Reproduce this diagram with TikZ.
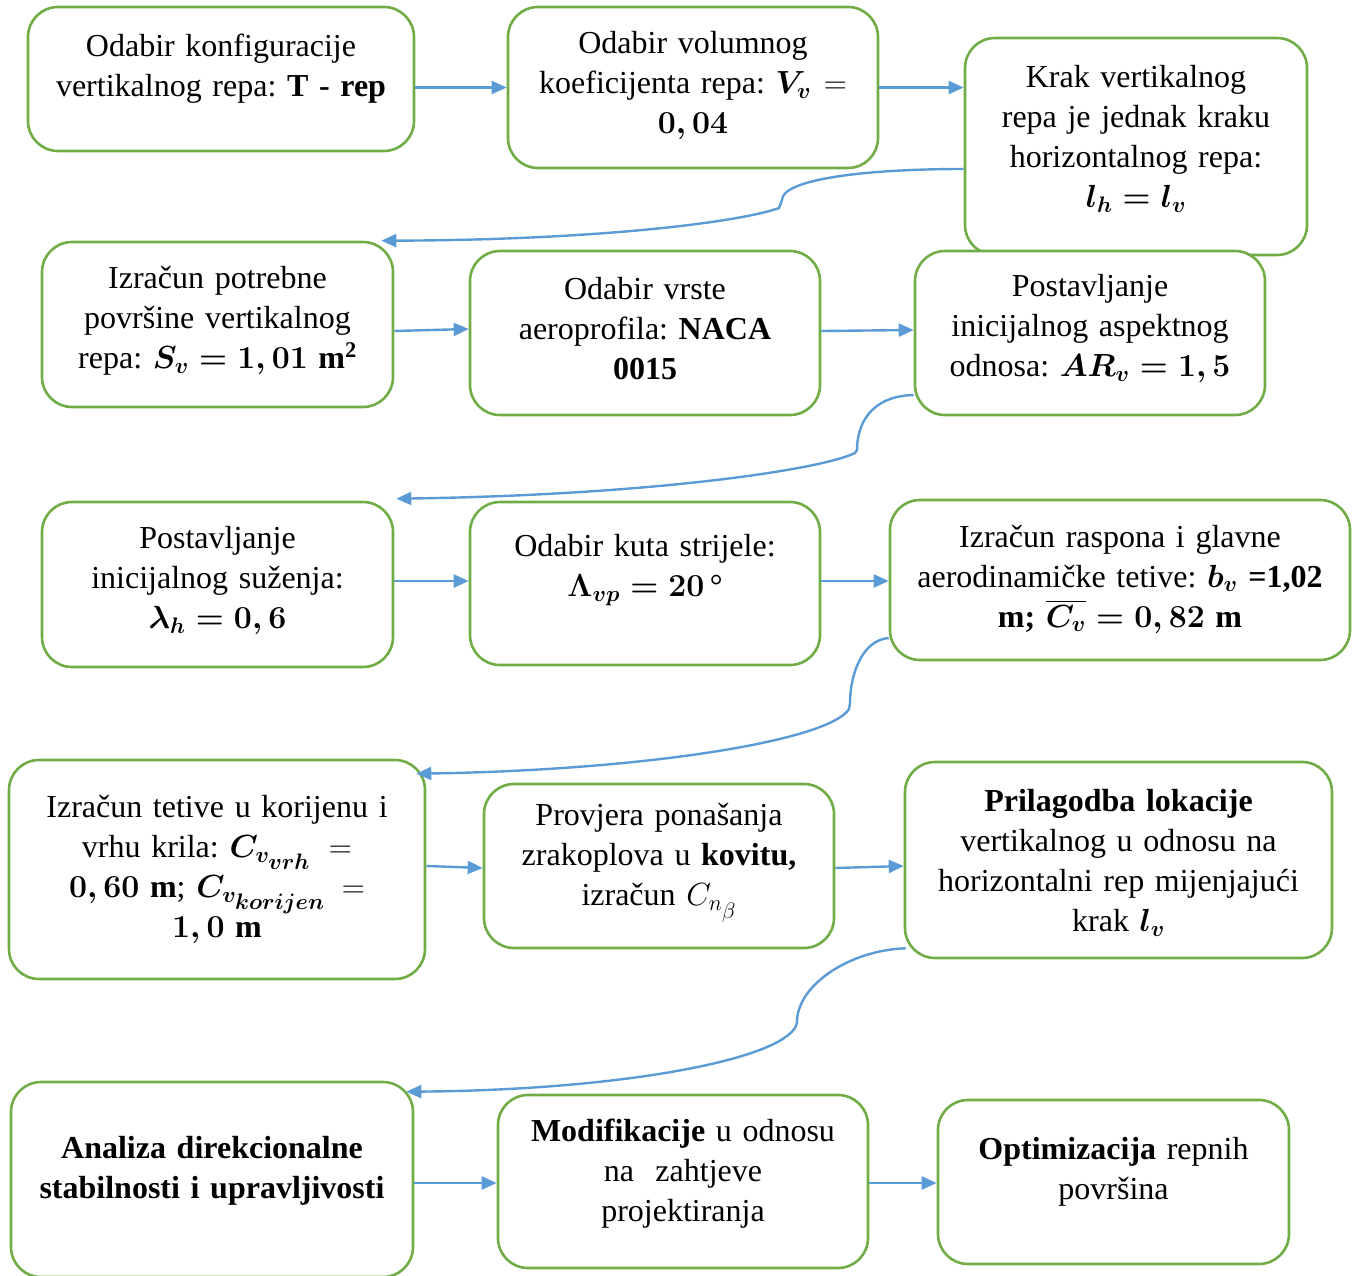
\RequirePackage{fix-cm}
\documentclass[tikz,border=0pt]{standalone}
\usepackage{amsmath}
\usepackage{fontspec}
\setmainfont{Liberation Serif}
\usetikzlibrary{arrows.meta,calc}
\definecolor{boxgreen}{RGB}{112,173,71}
\definecolor{arrowblue}{RGB}{91,155,213}
\tikzset{
  box/.style={draw=boxgreen, line width=2.6pt, rounded corners=30pt, inner sep=0pt, fill=white},
  txt/.style={inner sep=0pt, align=center, font=\fontsize{32}{40}\selectfont\frenchspacing, text width=#1},
  conn/.style={draw=arrowblue, line width=2.4pt, -{Triangle[length=15pt,width=13pt]}},
}
\newcommand{\bs}[1]{\boldsymbol{#1}}
\begin{document}
\begin{tikzpicture}[x=1pt,y=-1pt]
\useasboundingbox (0,0) rectangle (1361,1276);
% boxes
\node[box, minimum width=386pt, minimum height=144pt] (A) at (221,79) {};
\node[box, minimum width=370pt, minimum height=161pt] (B) at (693,87.5) {};
\node[box, minimum width=342pt, minimum height=217pt] (C) at (1136,146.5) {};
\node[box, minimum width=351pt, minimum height=165pt] (D) at (217.5,324.5) {};
\node[box, minimum width=350pt, minimum height=164pt] (E) at (645,333) {};
\node[box, minimum width=350pt, minimum height=164pt] (F) at (1090,333) {};
\node[box, minimum width=351pt, minimum height=165pt] (G) at (217.5,584.5) {};
\node[box, minimum width=350pt, minimum height=163pt] (H) at (645,583.5) {};
\node[box, minimum width=460pt, minimum height=160pt] (I) at (1120,580) {};
\node[box, minimum width=416pt, minimum height=219pt] (J) at (217,869.5) {};
\node[box, minimum width=350pt, minimum height=164pt] (K) at (659,866) {};
\node[box, minimum width=427pt, minimum height=196pt] (L) at (1118.5,860) {};
\node[box, minimum width=402pt, minimum height=195pt] (M) at (212,1179.5) {};
\node[box, minimum width=370pt, minimum height=173pt] (N) at (683,1181.5) {};
\node[box, minimum width=351pt, minimum height=164pt] (O) at (1113.5,1182) {};
% texts
\node[txt=380pt] (At) at (221,69) {Odabir konfiguracije\\ vertikalnog repa: \textbf{T - rep}};
\node[txt=360pt] (Bt) at (693,86) {Odabir volumnog\\ koeficijenta repa: $\bs{V_v} =$\\ $\bs{0,04}$};
\node[txt=330pt] (Ct) at (1136,139) {Krak vertikalnog\\ repa je jednak kraku\\ horizontalnog repa:\\ $\bs{l_h = l_v}$};
\node[txt=345pt] (Dt) at (217.5,321) {Izračun potrebne\\ površine vertikalnog\\ repa: $\bs{S_v = 1,01}\ \mathbf{m^2}$};
\node[txt=345pt] (Et) at (645,329) {Odabir vrste\\ aeroprofila: \textbf{NACA}\\ \textbf{0015}};
\node[txt=345pt] (Ft) at (1090,329) {Postavljanje\\ inicijalnog aspektnog\\ odnosa: $\bs{AR_v = 1,5}$};
\node[txt=345pt] (Gt) at (217.5,581) {Postavljanje\\ inicijalnog suženja:\\ $\bs{\lambda_h = 0,6}$};
\node[txt=345pt] (Ht) at (645,570) {Odabir kuta strijele:\\ $\bs{\Lambda_{vp} = 20}$\,°};
\node[txt=455pt] (It) at (1120,579) {Izračun raspona i glavne\\ aerodinamičke tetive: $\bs{b_v}$ \textbf{=1,02}\\ \textbf{m;} $\bs{\overline{C_v} = 0,82}\ \mathbf{m}$};
\node[txt=410pt] (Jt) at (217,869.5) {Izračun tetive u korijenu i\\ vrhu krila: $\bs{C_{v_{\scriptstyle vrh}}} =$\\ $\bs{0,60}\ \mathbf{m}$; $\bs{C_{v_{\scriptstyle korijen}}} =$\\ $\bs{1,0}\ \mathbf{m}$};
\node[txt=345pt] (Kt) at (659,863) {Provjera ponašanja\\ zrakoplova u \textbf{kovitu,}\\ izračun $C_{n_{\scriptstyle\beta}}$};
\node[txt=420pt] (Lt) at (1118.5,863) {\textbf{Prilagodba lokacije}\\ vertikalnog u odnosu na\\ horizontalni rep mijenjajući\\ krak $\bs{l_v}$};
\node[txt=400pt] (Mt) at (212,1171) {\textbf{Analiza direkcionalne}\\ \textbf{stabilnosti i upravljivosti}};
\node[txt=365pt] (Nt) at (683,1174) {\textbf{Modifikacije} u odnosu\\ na~ zahtjeve\\ projektiranja};
\node[txt=345pt] (Ot) at (1113.5,1172) {\textbf{Optimizacija} repnih\\ površina};
% straight connectors
\draw[conn] (A.east |- B.west) -- (B.west);
\draw[conn] (B.east) -- (C.west |- B.east);
\draw[conn] ($(D.east)+(0,6.5)$) -- ($(E.west)+(0,-4)$);
\draw[conn] ($(E.east)+(0,-2)$) -- ($(F.west)+(0,-3)$);
\draw[conn] ($(G.east)+(0,-3.5)$) -- ($(H.west)+(0,-2.5)$);
\draw[conn] ($(H.east)+(0,-2.5)$) -- ($(I.west)+(0,1)$);
\draw[conn] ($(J.east)+(0,-3.5)$) -- ($(K.west)+(0,2)$);
\draw[conn] ($(K.east)+(0,2)$) -- ($(L.west)+(0,6)$);
\draw[conn] ($(M.east)+(0,3.5)$) -- ($(N.west)+(0,1.5)$);
\draw[conn] ($(N.east)+(0,1.5)$) -- ($(O.west)+(0,1)$);
% curved connectors
\draw[conn] ($(C.west)+(0,22.5)$) .. controls (860,169) and (782,180) .. (782,200)
  -- (779,208) .. controls (740,222) and (600,240) .. ($(D.north east)+(-13,0)$);
\draw[conn] ($(F.west)+(0,62)$) .. controls (870,396) and (857,425) .. (857,450)
  -- (855,453) .. controls (820,470) and (650,495) .. ($(G.north east)+(2,-2)$);
\draw[conn] ($(I.west)+(0,58)$) .. controls (862,640) and (850,675) .. (850,703)
  -- (849,709) .. controls (830,740) and (650,770) .. ($(J.north east)+(-10,15)$);
\draw[conn] ($(L.south west)+(2,-11)$) .. controls (850,950) and (797,985) .. (797,1022)
  -- (796,1026) .. controls (780,1060) and (620,1090) .. ($(M.north east)+(-8,11)$);
\end{tikzpicture}
\end{document}
